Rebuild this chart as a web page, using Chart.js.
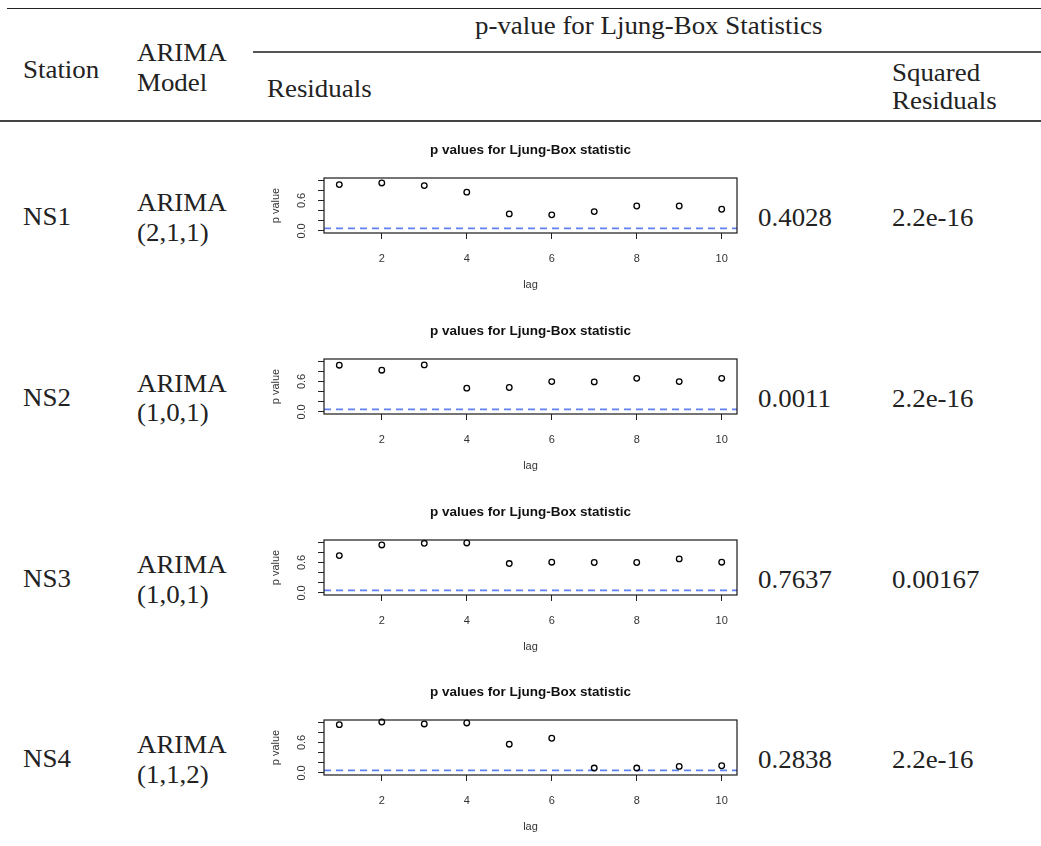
<!DOCTYPE html>
<html>
<head>
<meta charset="utf-8">
<script src="https://cdn.jsdelivr.net/npm/chart.js@4.4.1/dist/chart.umd.min.js"></script>
<style>
  html, body { margin: 0; padding: 0; background: #fff; }
  #sheet { position: relative; width: 1041px; height: 846px; overflow: hidden;
           font-family: 'Liberation Serif', 'Times New Roman', serif; font-size: 25.5px; color: #222; }
  .t { position: absolute; white-space: nowrap; line-height: 1.107;
       transform: scaleX(1.055); transform-origin: 0 0; }
  .rule { position: absolute; }
  canvas { position: absolute; }
</style>
</head>
<body>
<div id="sheet"></div>
<script>
/* ── Ljung-Box diagnostics table ─────────────────────────────── */

const STATIONS   = ['NS1', 'NS2', 'NS3', 'NS4'];
const MODELS     = ['(2,1,1)', '(1,0,1)', '(1,0,1)', '(1,1,2)'];
const RESID_P    = ['0.4028', '0.0011', '0.7637', '0.2838'];
const SQ_RESID_P = ['2.2e-16', '2.2e-16', '0.00167', '2.2e-16'];

const LAGS = [1, 2, 3, 4, 5, 6, 7, 8, 9, 10];
const NS1_P = [0.91, 0.943, 0.891, 0.762, 0.335, 0.316, 0.38, 0.49, 0.49, 0.426];
const NS2_P = [0.918, 0.82, 0.924, 0.468, 0.48, 0.596, 0.59, 0.66, 0.596, 0.66];
const NS3_P = [0.734, 0.943, 0.975, 0.982, 0.578, 0.604, 0.598, 0.598, 0.669, 0.604];
const NS4_P = [0.949, 1.0, 0.962, 0.982, 0.565, 0.682, 0.096, 0.096, 0.129, 0.142];
const SERIES = [NS1_P, NS2_P, NS3_P, NS4_P];

const X_TICKS = [2, 4, 6, 8, 10];
const Y_TICKS = [0, 0.2, 0.4, 0.6, 0.8, 1.0];
const Y_LABELED = [0, 0.6];
const SIG_LEVEL = 0.05;
const X_MIN = 0.64, X_MAX = 10.36;
const Y_MIN = -0.04, Y_MAX = 1.04;

// layout
const BOX_TOPS = [178, 358.5, 540, 720];
const ASC = 22.7; // serif ascent at 25.5px, baseline -> div top

const sheet = document.getElementById('sheet');

function text(str, left, baseline) {
  const d = document.createElement('div');
  d.className = 't';
  d.textContent = str;
  d.style.left = left + 'px';
  d.style.top = (baseline - ASC) + 'px';
  sheet.appendChild(d);
  return d;
}

function rule(x1, x2, y, h, color) {
  const d = document.createElement('div');
  d.className = 'rule';
  Object.assign(d.style, { left: x1 + 'px', width: (x2 - x1) + 'px', top: y + 'px', height: h + 'px', background: color });
  sheet.appendChild(d);
}

// header
rule(7, 1041, 7.5, 1.3, '#222');
rule(253, 1041, 50.5, 2, '#555');
rule(0, 1041, 120, 1.5, '#444');

text('p-value for Ljung-Box Statistics', 475, 35);
text('Station', 23, 78.3);
text('ARIMA', 136.7, 61.7);
text('Model', 136.7, 91.7);
text('Residuals', 267, 97.3);
text('Squared', 892, 81.7);
text('Residuals', 892, 110);

// R-like frame + rotated y tick labels
const rFrame = {
  id: 'rFrame',
  afterDraw(chart) {
    const { ctx, chartArea: { left, right, top, bottom }, scales: { y } } = chart;
    ctx.save();
    ctx.strokeStyle = '#1a1a1a';
    ctx.lineWidth = 1.2;
    ctx.strokeRect(left, top, right - left, bottom - top);
    ctx.fillStyle = '#333';
    ctx.font = "11px 'Liberation Sans', Arial, sans-serif";
    ctx.textAlign = 'center';
    ctx.textBaseline = 'middle';
    Y_LABELED.forEach(v => {
      ctx.save();
      ctx.translate(44, y.getPixelForValue(v));
      ctx.rotate(-Math.PI / 2);
      ctx.fillText(v.toFixed(1), 0, 0);
      ctx.restore();
    });
    ctx.restore();
  }
};

const axisFont = { family: "'Liberation Sans', Arial, sans-serif", size: 11 };

function createLjungBox(i) {
  const cv = document.createElement('canvas');
  cv.width = 490; cv.height = 160;
  cv.style.left = '258px';
  cv.style.top = (BOX_TOPS[i] - 38) + 'px';
  sheet.appendChild(cv);

  return new Chart(cv, {
    type: 'scatter',
    data: {
      datasets: [{
        data: LAGS.map((lag, k) => ({ x: lag, y: SERIES[i][k] })),
        pointStyle: 'circle',
        pointRadius: 2.8,
        pointBorderWidth: 1.3,
        pointBorderColor: '#000',
        pointBackgroundColor: 'rgba(0,0,0,0)',
        clip: false,
      }, {
        type: 'line',
        data: [{ x: X_MIN, y: SIG_LEVEL }, { x: X_MAX, y: SIG_LEVEL }],
        borderColor: '#5f80f3',
        borderWidth: 1.6,
        borderDash: [7, 5],
        pointRadius: 0,
      }]
    },
    options: {
      responsive: false,
      animation: false,
      devicePixelRatio: 1,
      layout: { padding: { left: 0, right: 11, top: 0, bottom: 0 } },
      plugins: {
        legend: { display: false },
        tooltip: { enabled: false },
        title: {
          display: true,
          text: 'p values for Ljung-Box statistic',
          fullSize: false,
          color: '#111',
          font: { family: "'Liberation Sans', Arial, sans-serif", size: 13.5, weight: 'bold' },
          padding: { top: 2.5, bottom: 19.3 },
        },
      },
      scales: {
        x: {
          type: 'linear',
          min: X_MIN, max: X_MAX,
          afterBuildTicks: s => { s.ticks = X_TICKS.map(v => ({ value: v })); },
          afterFit: s => { s.height = 67; },
          grid: { drawOnChartArea: false, color: '#222', tickLength: 6 },
          border: { display: false },
          ticks: { font: axisFont, color: '#333', padding: 13, maxRotation: 0 },
          title: { display: true, text: 'lag', font: axisFont, color: '#333', padding: { top: 0, bottom: 8.4 } },
        },
        y: {
          min: Y_MIN, max: Y_MAX,
          afterBuildTicks: s => { s.ticks = Y_TICKS.map(v => ({ value: v })); },
          afterFit: s => { s.width = 66; },
          grid: { drawOnChartArea: false, color: '#222', tickLength: 6 },
          border: { display: false },
          ticks: { display: false },
          title: { display: true, text: 'p value', font: axisFont, color: '#333', padding: { top: 11, bottom: 0 } },
        },
      },
    },
    plugins: [rFrame],
  });
}

STATIONS.forEach((st, i) => {
  const off = BOX_TOPS[i] - BOX_TOPS[0];
  text(st, 22.7, 226 + off);
  text('ARIMA', 136.7, 211.7 + off);
  text(MODELS[i], 136.7, 241.5 + off);
  text(RESID_P[i], 758, 227 + off);
  text(SQ_RESID_P[i], 892, 227 + off);
  createLjungBox(i);
});
</script>
</body>
</html>
